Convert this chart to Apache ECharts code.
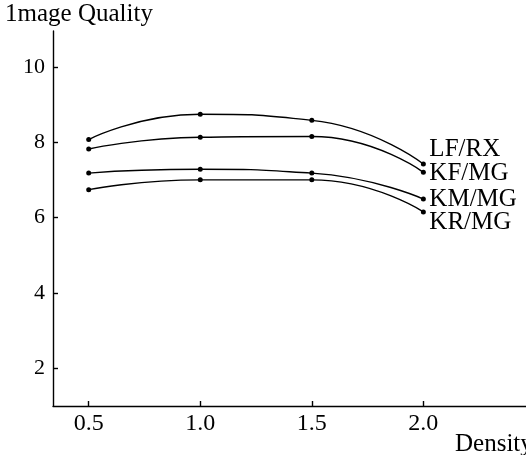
<!DOCTYPE html>
<html>
<head>
<meta charset="UTF-8">
<title></title>
<style type="text/css">
  html, body, #main { margin: 0; padding: 0; width: 100%; height: 100%; background: #fff; overflow: hidden; }
</style>
</head>
<body>
<div id="main" style="width: 526px; height: 455px;"></div>
<script type="text/javascript" src="https://cdn.jsdelivr.net/npm/echarts@6/dist/echarts.min.js"></script>
<script type="text/javascript">
  // density on the x axis
  const density = [0.5, 1.0, 1.5, 2.0];
  // image quality of each system
  const lfrx = [8.07, 8.74, 8.58, 7.42];
  const kfmg = [7.82, 8.13, 8.15, 7.20];
  const kmmg = [7.18, 7.28, 7.18, 6.49];
  const krmg = [6.74, 7.00, 7.00, 6.15];
  const xTicks = [0.5, 1.0, 1.5, 2.0];
  const yTicks = [2, 4, 6, 8, 10];

  const font = '"Liberation Serif", "DejaVu Serif", serif';

  function makeSeries (name, values, dy) {
    return {
      name: name,
      type: 'line',
      smooth: 0.55,
      data: density.map(function (d, i) { return [d, values[i]]; }),
      symbol: 'circle',
      symbolSize: 5,
      itemStyle: { color: '#000' },
      lineStyle: { color: '#000', width: 1.4 },
      endLabel: {
        show: true,
        formatter: '{a}',
        distance: 6,
        offset: [0, dy],
        color: '#000',
        fontFamily: font,
        fontSize: 25
      }
    };
  }

  const chart = echarts.init(document.getElementById('main'));
  chart.setOption({
    animation: false,
    grid: { left: 53, right: 0, top: 31, bottom: 49, outerBoundsMode: 'none', containLabel: false },
    xAxis: {
      type: 'value',
      min: 0.34,
      max: 2.46,
      name: 'Density',
      nameLocation: 'end',
      nameGap: -71,
      nameTextStyle: {
        align: 'left', verticalAlign: 'top', padding: [26, 0, 0, 0],
        color: '#000', fontFamily: font, fontSize: 25
      },
      splitLine: { show: false },
      axisLine: { lineStyle: { color: '#000', width: 1.4 } },
      axisTick: { inside: true, length: 5, customValues: xTicks, lineStyle: { color: '#000', width: 1.4 } },
      axisLabel: {
        customValues: xTicks, margin: 6, color: '#000', fontFamily: font, fontSize: 24,
        formatter: function (v) { return v.toFixed(1); }
      }
    },
    yAxis: {
      type: 'value',
      min: 1,
      max: 10.95,
      name: '1mage Quality',
      nameLocation: 'end',
      nameGap: 4,
      nameTextStyle: {
        align: 'left', padding: [0, 0, 0, -48],
        color: '#000', fontFamily: font, fontSize: 25
      },
      splitLine: { show: false },
      axisLine: { show: true, lineStyle: { color: '#000', width: 1.4 } },
      axisTick: { show: true, inside: true, length: 5, customValues: yTicks, lineStyle: { color: '#000', width: 1.4 } },
      axisLabel: { customValues: yTicks, margin: 8, color: '#000', fontFamily: font, fontSize: 22 }
    },
    series: [
      makeSeries('LF/RX', lfrx, -15),
      makeSeries('KF/MG', kfmg, 1),
      makeSeries('KM/MG', kmmg, 0),
      makeSeries('KR/MG', krmg, 11)
    ]
  });
</script>
</body>
</html>
